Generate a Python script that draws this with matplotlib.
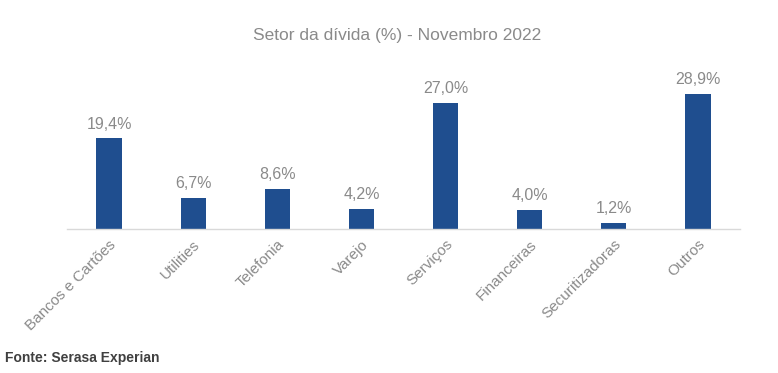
import matplotlib.pyplot as plt

# data
categories = ["Bancos e Cartões", "Utilities", "Telefonia", "Varejo",
              "Serviços", "Financeiras", "Securitizadoras", "Outros"]
values = [19.4, 6.7, 8.6, 4.2, 27.0, 4.0, 1.2, 28.9]
value_labels = ["19,4%", "6,7%", "8,6%", "4,2%", "27,0%", "4,0%", "1,2%", "28,9%"]
title = "Setor da dívida (%) - Novembro 2022"
source = "Fonte: Serasa Experian"

plt.rcParams['font.family'] = ['Liberation Sans', 'DejaVu Sans']
grey = "#8a8a8a"

fig = plt.figure(figsize=(7.78, 3.73), dpi=100)
ax = fig.add_axes([0.0861, 0.386, 0.865, 0.413])

x = range(len(categories))
bars = ax.bar(x, values, width=0.30, color="#1f4e8f", zorder=2)
for b, lab in zip(bars, value_labels):
    ax.annotate(lab, (b.get_x() + b.get_width() / 2, b.get_height()),
                xytext=(0, 5), textcoords="offset points",
                ha="center", va="bottom", fontsize=11.5, color=grey)

ax.set_xlim(-0.5, 7.5)
ax.set_ylim(0, 33)
ax.set_xticks(list(x))
ax.set_xticklabels(categories, rotation=45, ha="right", rotation_mode="anchor",
                   fontsize=11, color=grey)
ax.tick_params(axis="x", length=0, pad=6)
ax.set_yticks([])
for side in ["top", "right", "left"]:
    ax.spines[side].set_visible(False)
ax.spines["bottom"].set_color("#d9d9d9")
ax.spines["bottom"].set_linewidth(1)

fig.text(0.511, 0.905, title, ha="center", va="center", fontsize=12.5, color=grey)
fig.text(0.006, 0.040, source, ha="left", va="center", fontsize=10,
         fontweight="bold", color="#404040")

fig.savefig("out.png", dpi=100)
